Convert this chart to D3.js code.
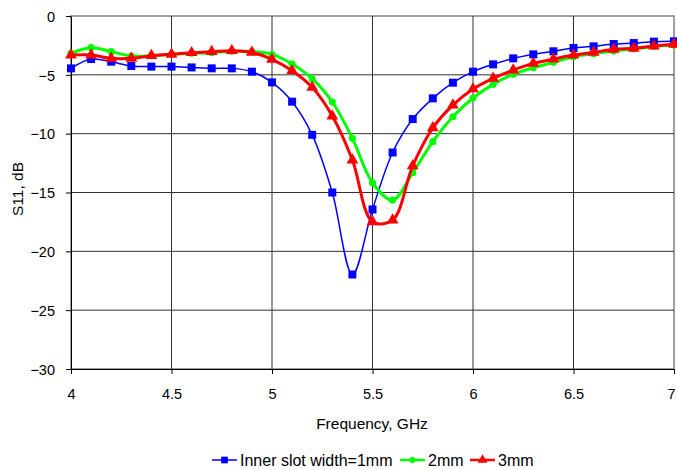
<!DOCTYPE html>
<html><head><meta charset="utf-8">
<script src="https://cdn.jsdelivr.net/npm/d3@7"></script>
<style>body{margin:0;background:#fff}svg{display:block}text{font-family:"Liberation Sans",Arial,sans-serif}</style>
</head><body>
<script>
const freq = [4.0,4.1,4.2,4.3,4.4,4.5,4.6,4.7,4.8,4.9,5.0,5.1,5.2,5.3,5.4,5.5,5.6,5.7,5.8,5.9,6.0,6.1,6.2,6.3,6.4,6.5,6.6,6.7,6.8,6.9,7.0];
const s1mm = [-4.45,-3.66,-3.88,-4.25,-4.3,-4.3,-4.37,-4.45,-4.45,-4.73,-5.64,-7.28,-10.1,-15.0,-21.97,-16.44,-11.6,-8.76,-7.0,-5.67,-4.73,-4.11,-3.6,-3.26,-3.0,-2.72,-2.58,-2.38,-2.3,-2.18,-2.15];
const s2mm = [-3.17,-2.69,-3.03,-3.4,-3.37,-3.26,-3.17,-3.12,-3.0,-3.03,-3.26,-4.08,-5.33,-7.31,-10.4,-14.17,-15.65,-13.32,-10.68,-8.56,-6.97,-5.81,-4.96,-4.39,-3.94,-3.46,-3.2,-2.98,-2.8,-2.6,-2.47];
const s3mm = [-3.32,-3.32,-3.6,-3.6,-3.37,-3.26,-3.12,-3.03,-2.95,-3.09,-3.68,-4.65,-6.06,-8.5,-12.24,-17.49,-17.35,-12.73,-9.5,-7.57,-6.2,-5.3,-4.6,-4.03,-3.66,-3.32,-3.09,-2.83,-2.75,-2.55,-2.41];
const seriesNames = ["Inner slot width=1mm","2mm","3mm"];
const xTicks = [4,4.5,5,5.5,6,6.5,7];
const yTicks = [0,-5,-10,-15,-20,-25,-30];

const W=677,H=470;
const svg=d3.select("body").append("svg").attr("width",W).attr("height",H);
const x=d3.scaleLinear().domain([4,7]).range([71,674]);
const y=d3.scaleLinear().domain([-30,0]).range([369,16]);

svg.append("rect").attr("x",71).attr("y",16).attr("width",603).attr("height",353).attr("fill","#fff").attr("stroke","#808080").attr("stroke-width",1.5);
const g=svg.append("g");
g.selectAll(".vg").data(xTicks.slice(1,-1)).enter().append("line").attr("x1",d=>x(d)).attr("x2",d=>x(d)).attr("y1",16).attr("y2",369).attr("stroke","#303030").attr("stroke-width",1);
g.selectAll(".hg").data(yTicks.slice(1,-1)).enter().append("line").attr("y1",d=>y(d)).attr("y2",d=>y(d)).attr("x1",71).attr("x2",674).attr("stroke","#303030").attr("stroke-width",1);

const xa=svg.append("g").attr("transform","translate(0,369)").call(d3.axisBottom(x).tickValues(xTicks).tickSize(5).tickSizeOuter(0).tickFormat(d3.format("")));
const ya=svg.append("g").attr("transform","translate(71,0)").call(d3.axisLeft(y).tickValues(yTicks).tickSize(5).tickSizeOuter(0).tickFormat(d3.format("")));
[xa,ya].forEach(a=>{a.select(".domain").attr("stroke","#000");a.selectAll(".tick line").attr("stroke","#000");a.selectAll("text").attr("font-size",14.5).attr("fill","#000").attr("font-family","Liberation Sans, Arial, sans-serif");});
xa.selectAll("text").attr("y",30).attr("dy",0).attr("x",d=>d===7?-3:0);
ya.selectAll("text").attr("x",-16).attr("dy","0.36em");
svg.append("text").attr("x",372).attr("y",429).attr("text-anchor","middle").attr("font-size",15.5).text("Frequency, GHz");
svg.append("text").attr("transform","translate(23,189) rotate(-90)").attr("text-anchor","middle").attr("font-size",15.5).text("S11, dB");

const series=[
 {vals:s1mm,color:"#0000FF",w:1.5,shape:d3.symbolSquare,size:64},
 {vals:s2mm,color:"#00FF00",w:3,shape:d3.symbolCircle,size:40},
 {vals:s3mm,color:"#FF0000",w:3,shape:d3.symbolTriangle,size:60}
];
const line=d3.line().x(d=>x(d[0])).y(d=>y(d[1])).curve(d3.curveCatmullRom.alpha(0.5));
series.forEach(s=>{
 const pts=freq.map((f,i)=>[f,s.vals[i]]);
 svg.append("path").datum(pts).attr("d",line).attr("fill","none").attr("stroke",s.color).attr("stroke-width",s.w);
 svg.selectAll(null).data(pts).enter().append("path").attr("d",d3.symbol().type(s.shape).size(s.size)).attr("transform",d=>`translate(${x(d[0])},${y(d[1])})`).attr("fill",s.color);
});

const leg=svg.append("g").attr("transform","translate(0,460)");
const items=[{x:212,tx:240},{x:400,tx:428},{x:470,tx:498}];
items.forEach((it,i)=>{
 const s=series[i];
 leg.append("line").attr("x1",it.x).attr("x2",it.x+25).attr("y1",0).attr("y2",0).attr("stroke",s.color).attr("stroke-width",s.w==3?2.5:1.5);
 leg.append("path").attr("d",d3.symbol().type(s.shape).size(s.size*0.7)).attr("transform",`translate(${it.x+12.5},0)`).attr("fill",s.color);
 leg.append("text").attr("x",it.tx).attr("y",5.5).attr("font-size",16).text(seriesNames[i]);
});
</script>
</body></html>
